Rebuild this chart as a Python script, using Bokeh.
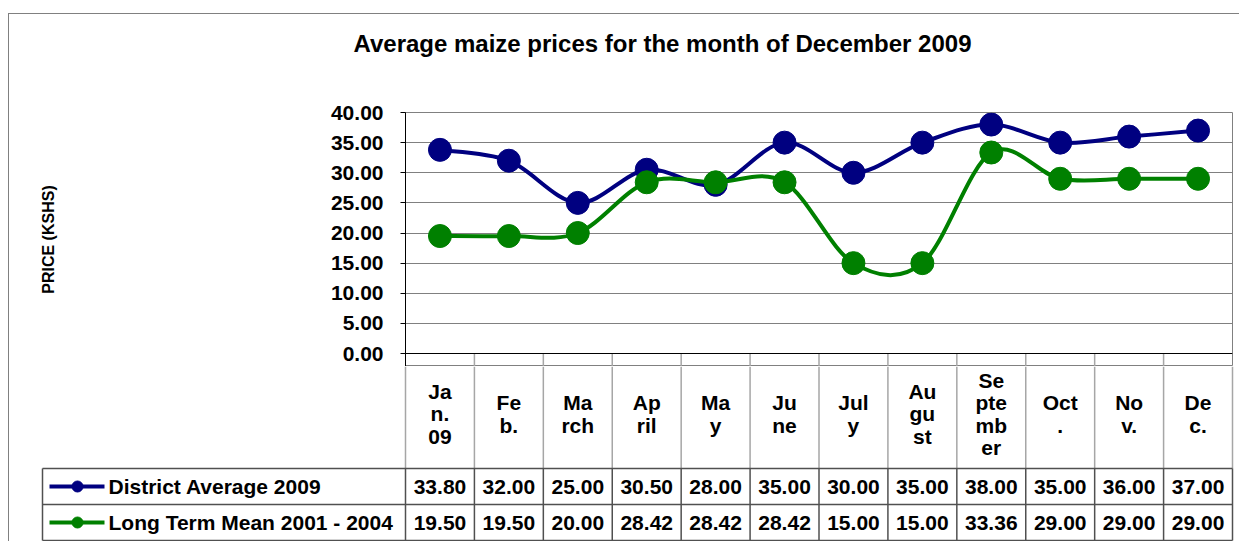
import numpy as np
from bokeh.plotting import figure
from bokeh.layouts import column
from bokeh.models import (FactorRange, Range1d, FixedTicker, PrintfTickFormatter,
                          Span, ColumnDataSource, Title)
from bokeh.core.properties import value
from bokeh.embed import file_html
from bokeh.resources import INLINE

# ---------------- data ----------------
title_text = "Average maize prices for the month of December 2009"
y_label = "PRICE (KSHS)"
categories = ["Jan. 09", "Feb.", "March", "April", "May", "June", "July",
              "August", "September", "Oct.", "Nov.", "Dec."]
header_labels = ["Ja\nn.\n09", "Fe\nb.", "Ma\nrch", "Ap\nril", "Ma\ny", "Ju\nne",
                 "Jul\ny", "Au\ngu\nst", "Se\npte\nmb\ner", "Oct\n.", "No\nv.", "De\nc."]
district_avg_2009 = [33.80, 32.00, 25.00, 30.50, 28.00, 35.00, 30.00, 35.00, 38.00, 35.00, 36.00, 37.00]
long_term_mean = [19.50, 19.50, 20.00, 28.42, 28.42, 28.42, 15.00, 15.00, 33.36, 29.00, 29.00, 29.00]
series_names = ["District Average 2009", "Long Term Mean 2001 - 2004"]
series_values = [district_avg_2009, long_term_mean]
series_colors = ["#000080", "#008000"]
y_ticks = [0, 5, 10, 15, 20, 25, 30, 35, 40]

# ---------------- layout constants (pixels) ----------------
FONT = value("Liberation Sans")
W, H = 1239, 541
F_LEFT, F_RIGHT, F_TOP, Y0_PX = 405, 1232, 112, 353   # plot area
TOP_H = 366                                            # height of chart figure
N = len(categories)
COLW = (F_RIGHT - F_LEFT) / N
PX_PER_UNIT = (Y0_PX - F_TOP) / 40.0
HEAD_BOTTOM, ROW1_BOTTOM, ROW2_BOTTOM = 468, 504, 540
LEG_LEFT = 42
GRID_LIGHT = "#a6a6a6"
GRID_DARK = "#505050"

# ---------------- top: chart ----------------
p = figure(width=W, height=TOP_H,
           x_range=FactorRange(*categories, range_padding=0),
           y_range=Range1d(-(TOP_H - Y0_PX) / PX_PER_UNIT, 40),
           x_axis_location=None,
           output_backend="svg", toolbar_location=None,
           min_border_left=F_LEFT, min_border_right=W - F_RIGHT,
           min_border_top=F_TOP, min_border_bottom=0)
p.border_fill_color = None
p.outline_line_color = "#808080"
p.xgrid.grid_line_color = None
p.ygrid.ticker = FixedTicker(ticks=y_ticks[1:-1])
p.ygrid.grid_line_color = "#808080"
p.ygrid.grid_line_width = 1

ax = p.yaxis[0]
ax.ticker = FixedTicker(ticks=y_ticks)
ax.formatter = PrintfTickFormatter(format="%.2f")
ax.major_label_text_font = "Liberation Sans"
ax.major_label_text_font_style = "bold"
ax.major_label_text_font_size = "21px"
ax.major_label_text_color = "black"
ax.major_label_standoff = 17
ax.major_tick_out = 5
ax.major_tick_in = 0
ax.minor_tick_out = 0
ax.minor_tick_in = 0
ax.major_tick_line_color = "black"
ax.axis_line_color = "black"
ax.axis_label = y_label
ax.axis_label_text_font = "Liberation Sans"
ax.axis_label_text_font_style = "bold"
ax.axis_label_text_font_size = "16px"
ax.axis_label_text_color = "black"
ax.axis_label_standoff = 271

# real title (outermost) + an empty spacer title between it and the frame
p.title.text = title_text
p.title.align = "left"
p.title.offset = 353 - F_LEFT
p.title.standoff = 10
p.title.text_font = "Liberation Sans"
p.title.text_font_style = "bold"
p.title.text_font_size = "24px"
p.title.text_color = "black"
p.add_layout(Title(text=" ", text_font_size="24px", standoff=22), "above")

p.add_layout(Span(location=0, dimension="width", line_color="black", line_width=1))
# top piece of the table header separators
p.segment(x0=list(range(1, N)), y0=[0] * (N - 1), x1=list(range(1, N)),
          y1=[p.y_range.start] * (N - 1), line_color=GRID_LIGHT, line_width=1.5)


def smooth_segments(vals):
    xs = np.arange(len(vals)) + 0.5
    ys = np.asarray(vals, dtype=float)
    n = len(ys)
    d = dict(x0=[], y0=[], x1=[], y1=[], cx0=[], cy0=[], cx1=[], cy1=[])
    for i in range(n - 1):
        ip = max(i - 1, 0)
        inx = min(i + 2, n - 1)
        d["x0"].append(xs[i]); d["y0"].append(ys[i])
        d["x1"].append(xs[i + 1]); d["y1"].append(ys[i + 1])
        d["cx0"].append(xs[i] + (xs[i + 1] - xs[ip]) / 6.0)
        d["cy0"].append(ys[i] + (ys[i + 1] - ys[ip]) / 6.0)
        d["cx1"].append(xs[i + 1] - (xs[inx] - xs[i]) / 6.0)
        d["cy1"].append(ys[i + 1] - (ys[inx] - ys[i]) / 6.0)
    return ColumnDataSource(d)


for vals, col in zip(series_values, series_colors):
    p.bezier(x0="x0", y0="y0", x1="x1", y1="y1", cx0="cx0", cy0="cy0", cx1="cx1", cy1="cy1",
             source=smooth_segments(vals), line_color=col, line_width=4)
    p.scatter(x=categories, y=vals, size=23, marker="circle", fill_color=col, line_color=col)

# ---------------- bottom: data table ----------------
BOT_H = H - TOP_H
q = figure(width=W, height=BOT_H,
           x_range=Range1d(-F_LEFT / COLW, (W - F_LEFT) / COLW),
           y_range=Range1d(0, BOT_H),
           x_axis_location=None, y_axis_location=None,
           output_backend="svg", toolbar_location=None,
           min_border_left=0, min_border_right=0, min_border_top=0, min_border_bottom=0)
for fig in (p, q):
    try:
        fig.frame_align = False
    except Exception:
        pass
q.outline_line_color = None
q.border_fill_color = None
q.background_fill_color = None
q.grid.visible = False


def ty(ref_y):
    return H - ref_y


def tx(ref_x):
    return (ref_x - F_LEFT) / COLW


leg_left = tx(LEG_LEFT)
# header vertical separators (light grey)
q.segment(x0=list(range(N + 1)), y0=[ty(HEAD_BOTTOM)] * (N + 1), x1=list(range(N + 1)),
          y1=[BOT_H] * (N + 1), line_color=GRID_LIGHT, line_width=1.5)
# data rows vertical separators
q.segment(x0=[leg_left] + list(range(N + 1)), y0=[ty(ROW2_BOTTOM)] * (N + 2),
          x1=[leg_left] + list(range(N + 1)), y1=[ty(HEAD_BOTTOM)] * (N + 2),
          line_color=GRID_DARK, line_width=1.5)
# horizontal row lines
hy = [ty(HEAD_BOTTOM), ty(ROW1_BOTTOM), ty(ROW2_BOTTOM)]
q.segment(x0=[leg_left] * 3, y0=hy, x1=[N] * 3, y1=hy, line_color=GRID_DARK, line_width=1.5)

# header labels
q.text(x=list(np.arange(N) + 0.5), y=[ty(413.5)] * N, text=header_labels,
       text_font=FONT, text_font_style="bold", text_font_size=value("21px"),
       text_align="center", text_baseline="middle", text_line_height=0.98, text_color="black")

row_centers = [ty((HEAD_BOTTOM + ROW1_BOTTOM) / 2), ty((ROW1_BOTTOM + ROW2_BOTTOM) / 2)]
for vals, col, name, yc in zip(series_values, series_colors, series_names, row_centers):
    q.text(x=list(np.arange(N) + 0.5), y=[yc] * N, text=["%.2f" % v for v in vals],
           text_font=FONT, text_font_style="bold", text_font_size=value("21px"),
           text_align="center", text_baseline="middle", text_color="black")
    # legend key
    q.segment(x0=[tx(49)], y0=[yc], x1=[tx(104)], y1=[yc], line_color=col, line_width=4)
    q.scatter(x=[tx(77)], y=[yc], size=11, marker="circle", fill_color=col, line_color=col)
    q.text(x=[tx(108)], y=[yc], text=[name],
           text_font=FONT, text_font_style="bold", text_font_size=value("21px"),
           text_align="left", text_baseline="middle", text_color="black")

layout = column(p, q, spacing=0, styles={
    "background-image": "linear-gradient(#808080, #808080), linear-gradient(#808080, #808080)",
    "background-size": "1px 100%, 100% 1px",
    "background-position": "8px 13px, 8px 13px",
    "background-repeat": "no-repeat",
})
open("out.html", "w").write(file_html(layout, INLINE))
